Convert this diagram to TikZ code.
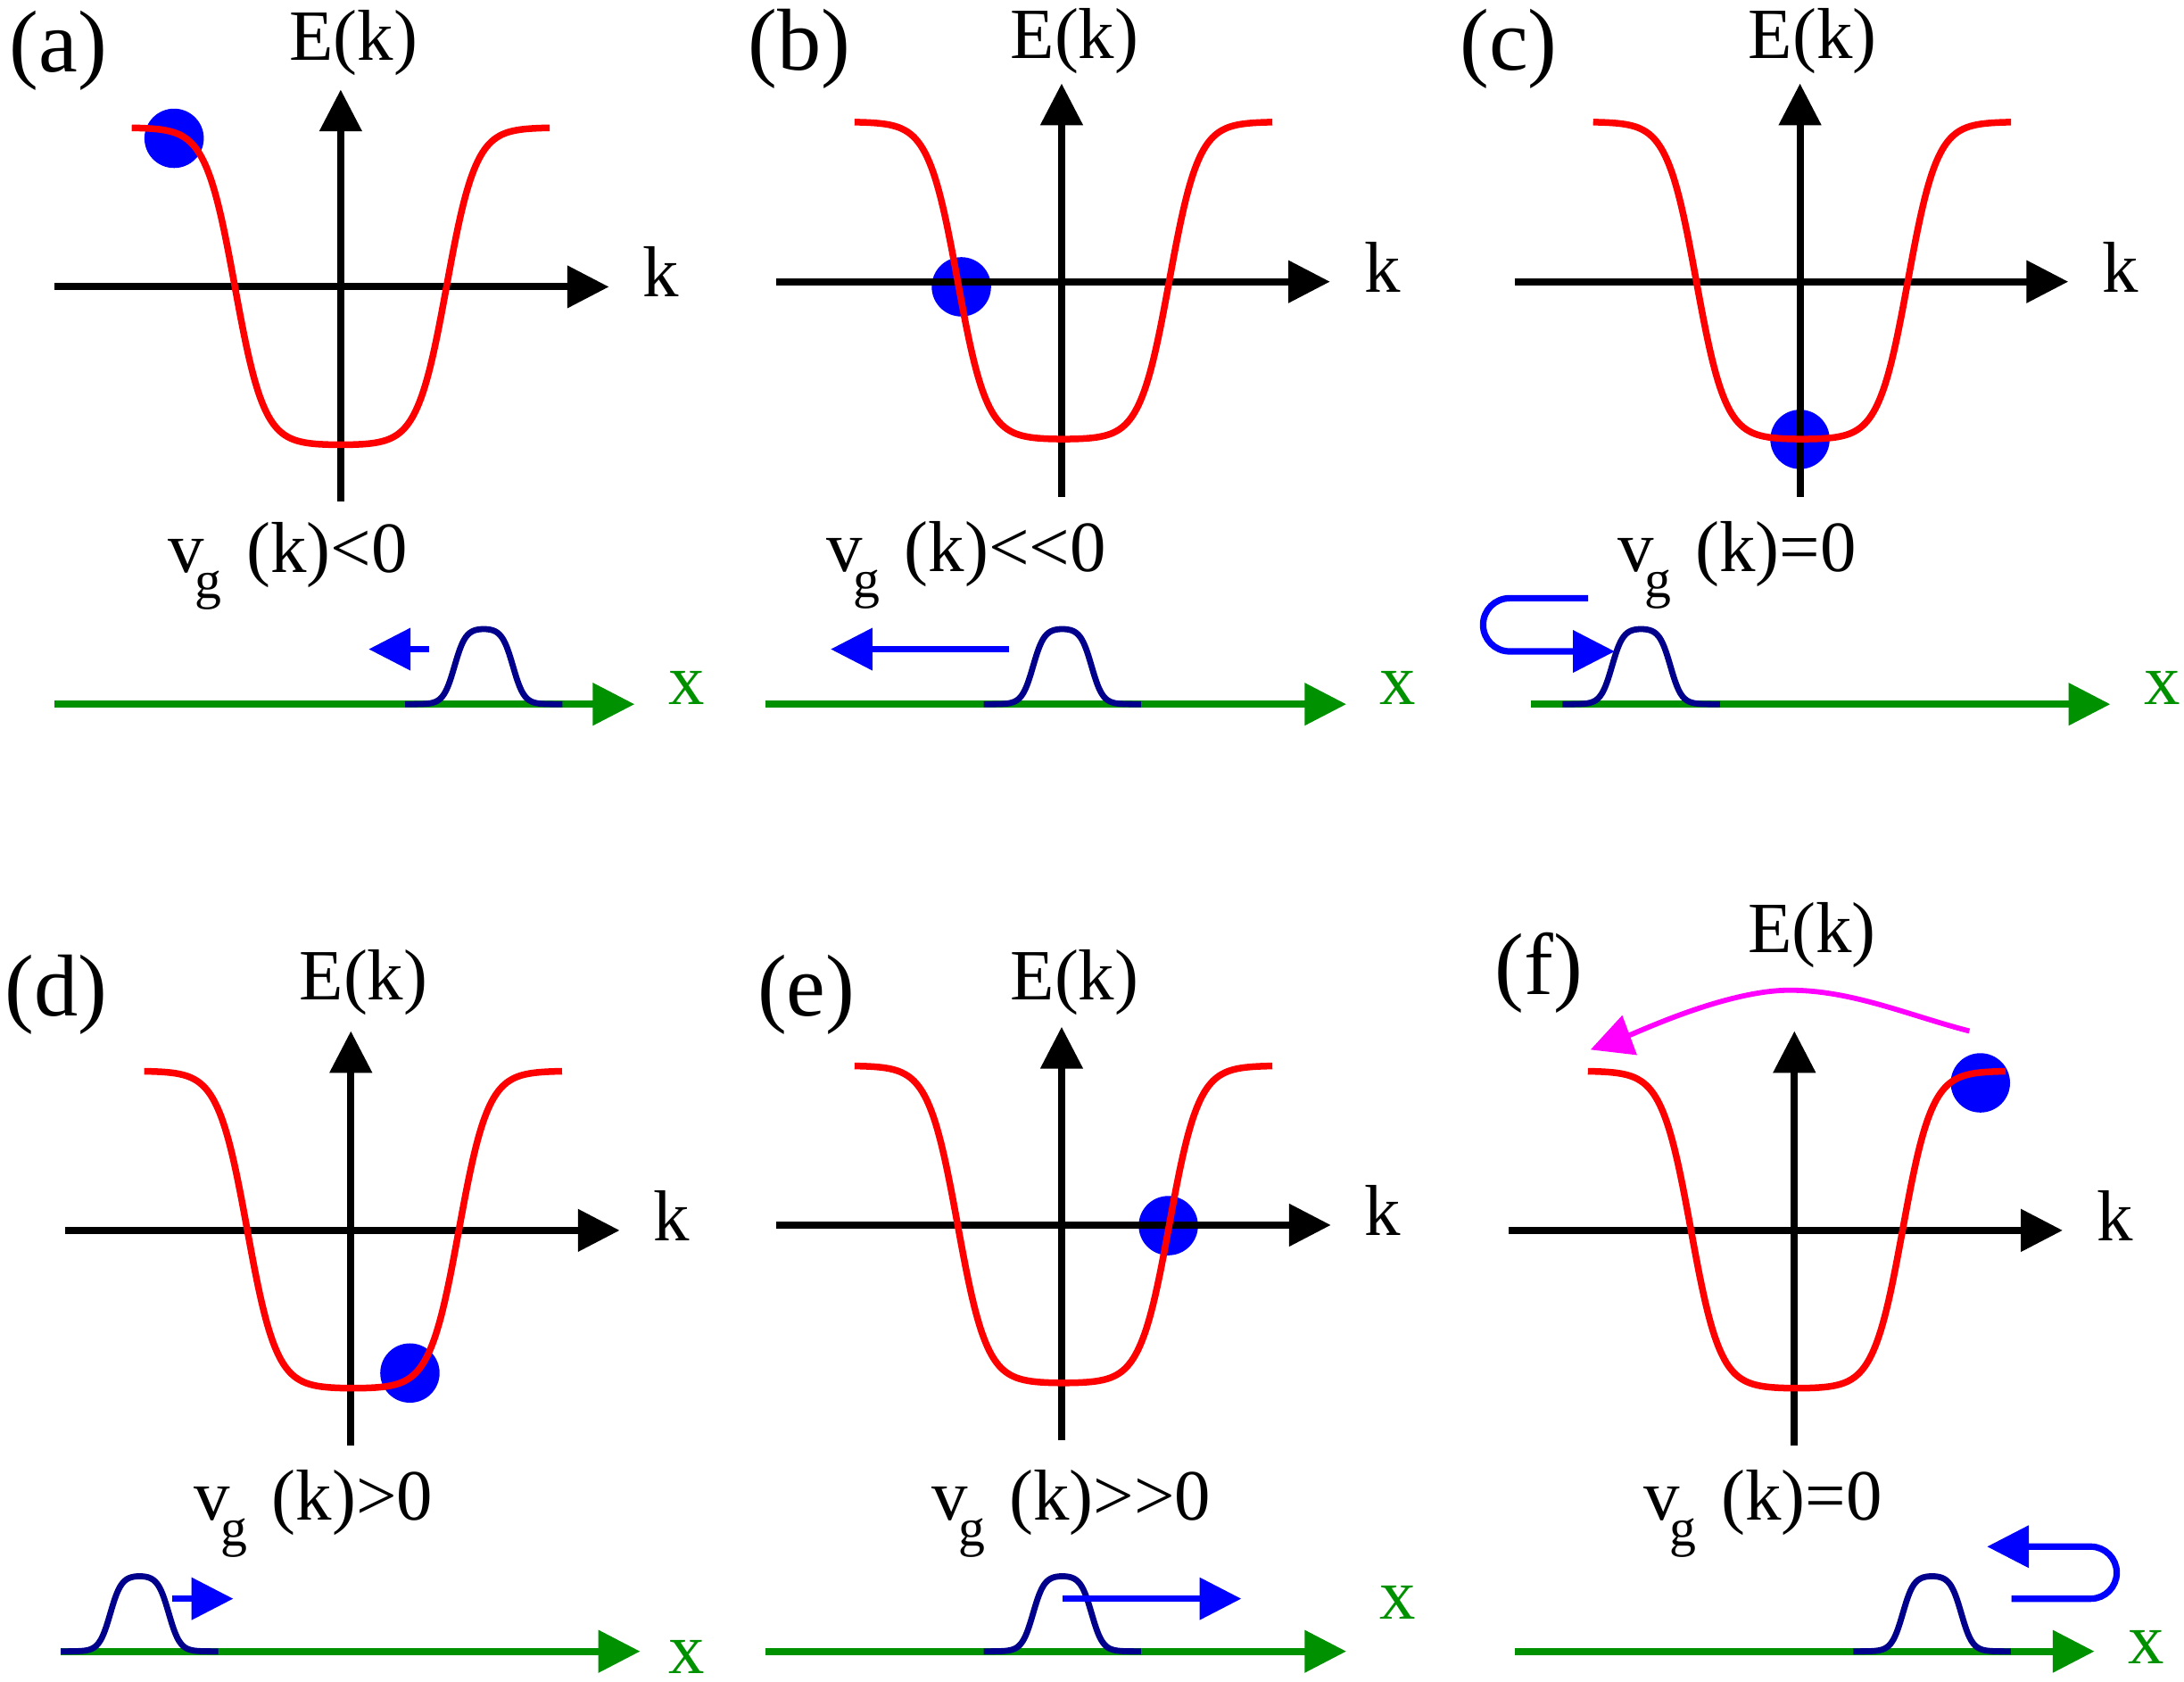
\documentclass[tikz,border=0pt]{standalone}
\usepackage{fontspec}
\setmainfont{Liberation Serif}
\usetikzlibrary{arrows.meta}
\definecolor{cRed}{RGB}{255,0,0}
\definecolor{cGreen}{RGB}{0,145,0}
\definecolor{cNavy}{RGB}{0,0,140}
\definecolor{cBlue}{RGB}{0,0,255}
\definecolor{cMag}{RGB}{255,0,255}
\newcommand{\vgsub}{v\kern-0.13em\raisebox{-0.36em}{\fontsize{17}{17}\selectfont g}\kern0.34em}
\tikzset{
  declare function={th(\t)=tanh(max(-4.5,min(4.5,\t)));
                    bandg(\k)=0.5*(th((\k+76)/21)-th((\k-76)/21));
                    pkg(\k)=0.5*(th((\k+21)/8)-th((\k-21)/8));},
  tip/.style={-{Triangle[length=0.468cm,width=0.46cm]}},
  axisline/.style={tip, line width=0.08cm, black},
  xaxisline/.style={tip, line width=0.078cm, cGreen},
  bandline/.style={line width=0.075cm, cRed},
  packetline/.style={line width=0.068cm, cNavy},
  velline/.style={tip, line width=0.072cm, cBlue},
  magline/.style={-{Triangle[length=0.468cm,width=0.46cm]}, line width=0.058cm, cMag},
  ball/.style={circle, fill=cBlue, inner sep=0pt, minimum size=0.665cm},
  panlab/.style={inner sep=0pt, anchor=base, font=\fontsize{28}{32}\selectfont},
  txt/.style={inner sep=0pt, anchor=base, font=\fontsize{23}{27}\selectfont},
  txtw/.style={inner sep=0pt, anchor=base west, font=\fontsize{23}{27}\selectfont},
  xlab/.style={inner sep=0pt, anchor=base, text=cGreen, font=\fontsize{23}{27}\selectfont},
}
\begin{document}
\begin{tikzpicture}[x=0.015612cm, y=-0.015612cm]
\useasboundingbox (0,0) rectangle (1568,1207);

% ================= panel (a)
\node[ball] (aball) at (125,99.3) {};
\coordinate (aK0) at (39.2,205.9); \coordinate (aK1) at (437.2,205.9);
\coordinate (aE0) at (244.6,360); \coordinate (aE1) at (244.6,64.3);
\draw[axisline] (aE0) -- (aE1);
\draw[axisline] (aK0) -- (aK1);
\draw[bandline] plot[domain=-150:150, samples=151, smooth] ({244.6+\x},{205.6-114+228*bandg(\x)});
\node[panlab] (alab) at (41.9,51.5) {(a)};
\node[txt] (aEk) at (253.75,43) {E(k)};
\node[txt] (ak) at (474.5,213) {k};
\node[txtw] (avg) at (120.6,411) {\vgsub(k)<0};
\coordinate (aX0) at (39.2,505.5); \coordinate (aX1) at (455.6,505.5);
\draw[xaxisline] (aX0) -- (aX1);
\node[xlab] (ax) at (493,505.5) {x};
\draw[packetline] plot[domain=-56.5:56.5, samples=81, smooth] ({347.3+\x},{505.5-54.5*pkg(\x)});
\coordinate (aV0) at (308.2,466); \coordinate (aV1) at (264.7,466);
\draw[velline] (aV0) -- (aV1);

% ================= panel (b)
\node[ball] (bball) at (690.2,205.9) {};
\coordinate (bK0) at (557.2,202.2); \coordinate (bK1) at (954.9,202.2);
\coordinate (bE0) at (762.2,356.6); \coordinate (bE1) at (762.2,59.9);
\draw[axisline] (bE0) -- (bE1);
\draw[axisline] (bK0) -- (bK1);
\draw[bandline] plot[domain=-150:150, samples=151, smooth] ({763.5+\x},{201.5-114+228*bandg(\x)});
\node[panlab] (blab) at (573.8,50) {(b)};
\node[txt] (bEk) at (771.5,42) {E(k)};
\node[txt] (bk) at (992.5,209.6) {k};
\node[txtw] (bvg) at (593.1,410) {\vgsub(k)<\kern0pt<\kern0pt0};
\coordinate (bX0) at (549.5,505.5); \coordinate (bX1) at (966.6,505.5);
\draw[xaxisline] (bX0) -- (bX1);
\node[xlab] (bx) at (1003.7,505.5) {x};
\draw[packetline] plot[domain=-56.5:56.5, samples=81, smooth] ({762.7+\x},{505.5-54.5*pkg(\x)});
\coordinate (bV0) at (724.4,466); \coordinate (bV1) at (596.4,466);
\draw[velline] (bV0) -- (bV1);

% ================= panel (c)
\node[ball] (cball) at (1292.3,315.4) {};
\coordinate (cK0) at (1087.3,202.2); \coordinate (cK1) at (1484.9,202.2);
\coordinate (cE0) at (1292.3,356.6); \coordinate (cE1) at (1292.3,59.9);
\draw[axisline] (cE0) -- (cE1);
\draw[axisline] (cK0) -- (cK1);
\draw[bandline] plot[domain=-150:150, samples=151, smooth] ({1293.8+\x},{201.5-114+228*bandg(\x)});
\node[panlab] (clab) at (1083.1,50) {(c)};
\node[txt] (cEk) at (1301.4,42) {E(k)};
\node[txt] (ck) at (1522.3,209.6) {k};
\node[txtw] (cvg) at (1161,410) {\vgsub(k)=0};
\coordinate (cX0) at (1099,505.5); \coordinate (cX1) at (1515.1,505.5);
\draw[xaxisline] (cX0) -- (cX1);
\node[xlab] (cx) at (1552.6,505.5) {x};
\draw[packetline] plot[domain=-56.5:56.5, samples=81, smooth] ({1178.3+\x},{505.5-54.5*pkg(\x)});
\coordinate (cU0) at (1140.2,429.4); \coordinate (cU1) at (1083.9,429.4);
\coordinate (cU2) at (1064.8,448.5); \coordinate (cU3) at (1083.9,467.6);
\coordinate (cU4) at (1159.3,467.6);
\draw[velline] (cU0) -- (cU1) .. controls (1073.35,429.4) and (1064.8,437.95) .. (cU2)
  .. controls (1064.8,459.05) and (1073.35,467.6) .. (cU3) -- (cU4);

% ================= panel (d)
\node[ball] (dball) at (294.3,985.6) {};
\coordinate (dK0) at (46.9,883.2); \coordinate (dK1) at (444.9,883.2);
\coordinate (dE0) at (251.9,1037.7); \coordinate (dE1) at (251.9,740.1);
\draw[axisline] (dE0) -- (dE1);
\draw[axisline] (dK0) -- (dK1);
\draw[bandline] plot[domain=-150:150, samples=151, smooth] ({253.5+\x},{882.8-114+228*bandg(\x)});
\node[panlab] (dlab) at (40.2,729) {(d)};
\node[txt] (dEk) at (261,718) {E(k)};
\node[txt] (dk) at (482,890.8) {k};
\node[txtw] (dvg) at (139,1091) {\vgsub(k)>0};
\coordinate (dX0) at (43.6,1185.4); \coordinate (dX1) at (459.6,1185.4);
\draw[xaxisline] (dX0) -- (dX1);
\node[xlab] (dx) at (492.9,1201) {x};
\draw[packetline] plot[domain=-56.5:56.5, samples=81, smooth] ({100.2+\x},{1185.4-54.5*pkg(\x)});
\coordinate (dV0) at (123.3,1147.6); \coordinate (dV1) at (167.5,1147.6);
\draw[velline] (dV0) -- (dV1);

% ================= panel (e)
\node[ball] (eball) at (838.8,879.8) {};
\coordinate (eK0) at (557.2,879.4); \coordinate (eK1) at (955.5,879.4);
\coordinate (eE0) at (762.2,1033.9); \coordinate (eE1) at (762.2,737.1);
\draw[axisline] (eE0) -- (eE1);
\draw[axisline] (eK0) -- (eK1);
\draw[bandline] plot[domain=-150:150, samples=151, smooth] ({763.5+\x},{879-114+228*bandg(\x)});
\node[panlab] (elab) at (578.9,729) {(e)};
\node[txt] (eEk) at (771.5,718) {E(k)};
\node[txt] (ek) at (992.5,887) {k};
\node[txtw] (evg) at (668.4,1091) {\vgsub(k)>\kern0pt>\kern0pt0};
\coordinate (eX0) at (549.5,1185.4); \coordinate (eX1) at (966.6,1185.4);
\draw[xaxisline] (eX0) -- (eX1);
\node[xlab] (ex) at (1003.7,1162.5) {x};
\draw[packetline] plot[domain=-56.5:56.5, samples=81, smooth] ({762.7+\x},{1185.4-54.5*pkg(\x)});
\coordinate (eV0) at (762.9,1147.6); \coordinate (eV1) at (891.2,1147.6);
\draw[velline] (eV0) -- (eV1);

% ================= panel (f)
\node[ball] (fball) at (1421.8,777.3) {};
\coordinate (fK0) at (1083.3,883.2); \coordinate (fK1) at (1480.9,883.2);
\coordinate (fE0) at (1288.3,1037.7); \coordinate (fE1) at (1288.3,740.1);
\draw[axisline] (fE0) -- (fE1);
\draw[axisline] (fK0) -- (fK1);
\draw[bandline] plot[domain=-150:150, samples=151, smooth] ({1290+\x},{882.8-114+228*bandg(\x)});
\node[panlab] (flab) at (1104.9,713.8) {(f)};
\node[txt] (fEk) at (1300.9,683.7) {E(k)};
\node[txt] (fk) at (1518.4,890.8) {k};
\node[txtw] (fvg) at (1179.4,1091) {\vgsub(k)=0};
\coordinate (fX0) at (1087.3,1185.4); \coordinate (fX1) at (1503.7,1185.4);
\draw[xaxisline] (fX0) -- (fX1);
\node[xlab] (fx) at (1541.2,1194) {x};
\draw[packetline] plot[domain=-56.5:56.5, samples=81, smooth] ({1387.1+\x},{1185.4-54.5*pkg(\x)});
\coordinate (fU0) at (1444.1,1147.6); \coordinate (fU1) at (1501,1147.6);
\coordinate (fU2) at (1519.7,1128.9); \coordinate (fU3) at (1501,1110.2);
\coordinate (fU4) at (1426.6,1110.2);
\draw[velline] (fU0) -- (fU1) .. controls (1511.3,1147.6) and (1519.7,1139.2) .. (fU2)
  .. controls (1519.7,1118.6) and (1511.3,1110.2) .. (fU3) -- (fU4);
\coordinate (fM0) at (1413.9,740.1); \coordinate (fMp) at (1284.9,710.8); \coordinate (fM1) at (1141.9,753.5);
\draw[magline] (fM0) .. controls (1370.9,729.1) and (1329.9,710.8) .. (fMp)
  .. controls (1239.9,710.8) and (1176.9,740.5) .. (fM1);
\end{tikzpicture}
\end{document}
